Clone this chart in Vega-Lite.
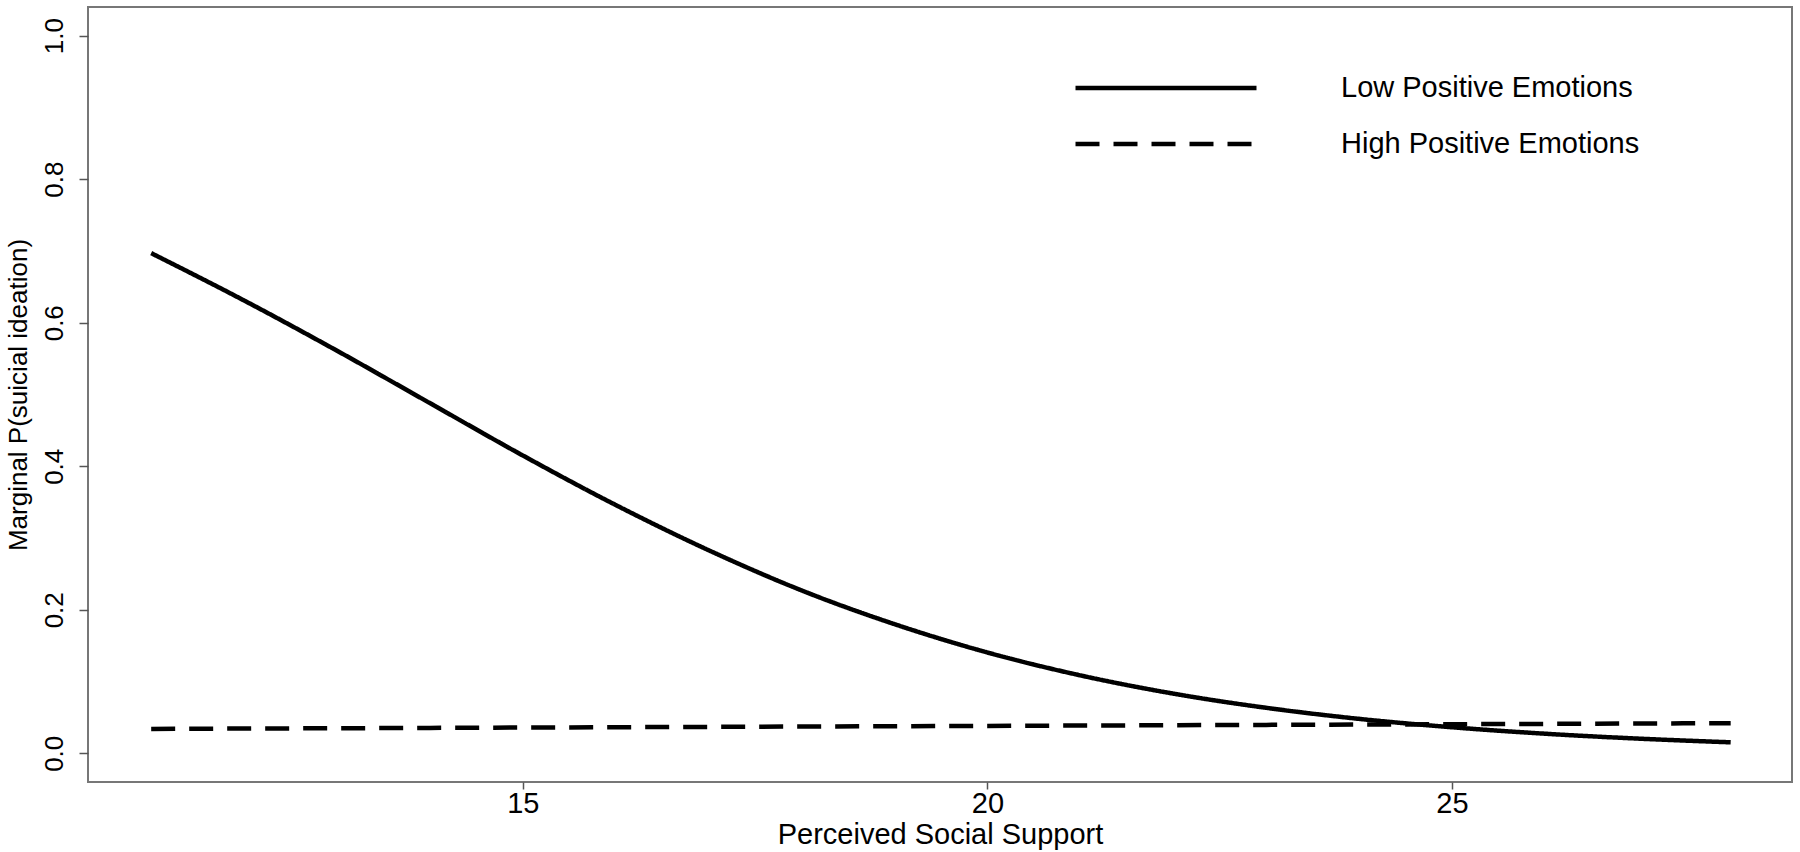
{
  "$schema": "https://vega.github.io/schema/vega-lite/v6.json",
  "width": 1704,
  "height": 775,
  "autosize": "none",
  "padding": {"left": 88, "top": 7, "right": 8, "bottom": 70},
  "background": "white",
  "config": {
    "view": {"stroke": "#777", "strokeWidth": 2},
    "font": "Liberation Sans",
    "axis": {
      "domain": false,
      "grid": false,
      "tickColor": "#555",
      "tickWidth": 1.5,
      "labelColor": "black",
      "titleColor": "black",
      "titleFontWeight": "normal",
      "labelFont": "Liberation Sans",
      "titleFont": "Liberation Sans"
    }
  },
  "data": {
    "values": [
      {"support": 11, "prob": 0.697, "group": "Low Positive Emotions"},
      {"support": 12, "prob": 0.631, "group": "Low Positive Emotions"},
      {"support": 13, "prob": 0.561, "group": "Low Positive Emotions"},
      {"support": 14, "prob": 0.488, "group": "Low Positive Emotions"},
      {"support": 15, "prob": 0.415, "group": "Low Positive Emotions"},
      {"support": 16, "prob": 0.346, "group": "Low Positive Emotions"},
      {"support": 17, "prob": 0.283, "group": "Low Positive Emotions"},
      {"support": 18, "prob": 0.227, "group": "Low Positive Emotions"},
      {"support": 19, "prob": 0.180, "group": "Low Positive Emotions"},
      {"support": 20, "prob": 0.1405, "group": "Low Positive Emotions"},
      {"support": 21, "prob": 0.1086, "group": "Low Positive Emotions"},
      {"support": 22, "prob": 0.0832, "group": "Low Positive Emotions"},
      {"support": 23, "prob": 0.0634, "group": "Low Positive Emotions"},
      {"support": 24, "prob": 0.048, "group": "Low Positive Emotions"},
      {"support": 25, "prob": 0.0363, "group": "Low Positive Emotions"},
      {"support": 26, "prob": 0.0273, "group": "Low Positive Emotions"},
      {"support": 27, "prob": 0.0205, "group": "Low Positive Emotions"},
      {"support": 28, "prob": 0.0153, "group": "Low Positive Emotions"},
      {"support": 11, "prob": 0.034, "group": "High Positive Emotions"},
      {"support": 14, "prob": 0.0354, "group": "High Positive Emotions"},
      {"support": 17, "prob": 0.0368, "group": "High Positive Emotions"},
      {"support": 20, "prob": 0.0382, "group": "High Positive Emotions"},
      {"support": 23, "prob": 0.0396, "group": "High Positive Emotions"},
      {"support": 26, "prob": 0.041, "group": "High Positive Emotions"},
      {"support": 28, "prob": 0.042, "group": "High Positive Emotions"}
    ]
  },
  "mark": {"type": "line", "strokeWidth": 4.5, "color": "black", "interpolate": "monotone"},
  "encoding": {
    "x": {
      "field": "support",
      "type": "quantitative",
      "scale": {"domain": [10.32, 28.66], "nice": false, "zero": false},
      "axis": {
        "values": [15, 20, 25],
        "title": "Perceived Social Support",
        "tickSize": 7,
        "labelPadding": 0,
        "labelFontSize": 29,
        "titleFontSize": 29,
        "titlePadding": 2
      }
    },
    "y": {
      "field": "prob",
      "type": "quantitative",
      "scale": {"domain": [-0.04, 1.04], "nice": false, "zero": false},
      "axis": {
        "values": [0, 0.2, 0.4, 0.6, 0.8, 1],
        "format": ".1f",
        "labelAngle": -90,
        "labelAlign": "center",
        "labelBaseline": "bottom",
        "tickSize": 9,
        "labelPadding": 12,
        "labelFontSize": 26,
        "title": "Marginal P(suicial ideation)",
        "titleFontSize": 26,
        "titlePadding": 10
      }
    },
    "strokeDash": {
      "field": "group",
      "type": "nominal",
      "scale": {
        "domain": ["Low Positive Emotions", "High Positive Emotions"],
        "range": [[1, 0], [24, 14]]
      },
      "legend": {
        "orient": "none",
        "legendX": 985,
        "legendY": 61,
        "title": null,
        "symbolType": "stroke",
        "symbolSize": 32761,
        "symbolStrokeWidth": 4.5,
        "symbolStrokeColor": "black",
        "labelFontSize": 29,
        "labelOffset": 82,
        "labelColor": "black",
        "labelLimit": 0,
        "clipHeight": 40,
        "rowPadding": 16,
        "padding": 0
      }
    }
  }
}
